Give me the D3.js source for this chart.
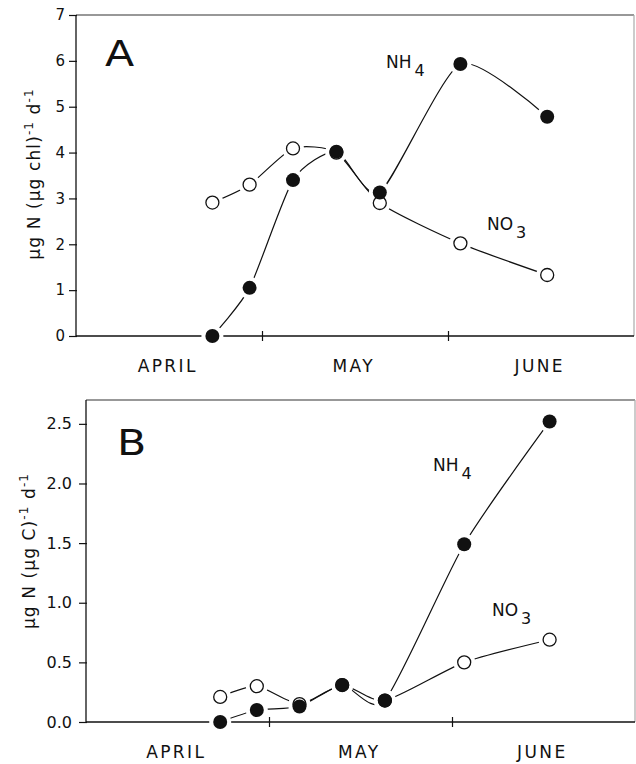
<!DOCTYPE html>
<html>
<head>
<meta charset="utf-8">
<script src="https://cdn.jsdelivr.net/npm/d3@7"></script>
<style>
  html, body { margin: 0; padding: 0; background: #fff; }
  svg { display: block; }
  text { font-family: "DejaVu Sans", sans-serif; fill: #111; }
</style>
</head>
<body>
<svg id="chart" width="636" height="764"></svg>
<script>
// ---- data (days counted from April 1) ----
const sampleDays = [22, 28, 35, 42, 49, 62, 76];
const nh4A = [0.00, 1.05, 3.40, 4.02, 3.13, 5.93, 4.78];
const no3A = [2.91, 3.30, 4.09, 4.00, 2.90, 2.02, 1.33];
const nh4B = [0.00, 0.10, 0.13, 0.31, 0.18, 1.49, 2.52];
const no3B = [0.21, 0.30, 0.15, 0.31, 0.18, 0.50, 0.69];
const monthLabels = ["APRIL", "MAY", "JUNE"];
const monthTickDays = [30, 60];
const yTicksA = [0, 1, 2, 3, 4, 5, 6, 7];
const yTicksB = [0, 0.5, 1.0, 1.5, 2.0, 2.5];

const svg = d3.select("#chart");
svg.append("rect").attr("width", 636).attr("height", 764).attr("fill", "#fff");

function panel(cfg) {
  const g = svg.append("g");
  const x = d3.scaleLinear().domain([0, 90]).range([cfg.left, cfg.right]);
  const y = d3.scaleLinear().domain([0, cfg.ymax]).range([cfg.bottom, cfg.top]);

  // frame: top and (faint) right
  g.append("line").attr("x1", cfg.left).attr("x2", cfg.right)
    .attr("y1", cfg.top).attr("y2", cfg.top)
    .attr("stroke", "#333").attr("stroke-width", 1.2);
  g.append("line").attr("x1", cfg.right).attr("x2", cfg.right)
    .attr("y1", cfg.top).attr("y2", cfg.bottom)
    .attr("stroke", "#aaa").attr("stroke-width", 1.2);

  // y axis
  const ya = g.append("g").attr("transform", `translate(${cfg.left},0)`)
    .call(d3.axisLeft(y).tickValues(cfg.yTicks).tickSize(7).tickPadding(cfg.tickPad)
      .tickFormat(cfg.fmt));
  ya.select(".domain").attr("stroke", "#111").attr("stroke-width", 1.3).attr("d",
    `M0,${cfg.top}V${cfg.bottom}`);
  ya.selectAll(".tick line").attr("stroke", "#111").attr("stroke-width", 1.2).attr("x2", -7).attr("x1", 1);
  ya.selectAll(".tick text").attr("font-size", cfg.tickFont).attr("fill", "#111")
    .style("font-family", '"DejaVu Sans", sans-serif');

  // x axis
  const xa = g.append("g").attr("transform", `translate(0,${cfg.bottom})`)
    .call(d3.axisBottom(x).tickValues(monthTickDays).tickSize(5).tickFormat(""));
  xa.select(".domain").attr("stroke", "#111").attr("stroke-width", 1.3)
    .attr("d", `M${cfg.left},0H${cfg.right}`);
  xa.selectAll(".tick line").attr("stroke", "#111").attr("stroke-width", 1.2).attr("y1", -5).attr("y2", 5);

  // month labels
  g.selectAll(".month").data(monthLabels).enter().append("text")
    .attr("x", (d, i) => x(i * 30 + 14.8))
    .attr("y", cfg.monthY)
    .attr("text-anchor", "middle")
    .attr("font-size", 17)
    .attr("letter-spacing", "2.4px")
    .text(d => d);

  // curves
  const line = d3.line()
    .x(d => x(d[0])).y(d => y(d[1]))
    .curve(d3.curveCardinal.tension(0.35));
  const ptsN = sampleDays.map((d, i) => [d, cfg.nh4[i]]);
  const ptsO = sampleDays.map((d, i) => [d, cfg.no3[i]]);
  [ptsO, ptsN].forEach(p => {
    g.append("path").attr("d", line(p)).attr("fill", "none")
      .attr("stroke", "#111").attr("stroke-width", 1.2);
  });

  const r = 7;
  // white halos leave the small gaps between lines and markers
  g.selectAll(".halo").data(ptsO.concat(ptsN)).enter().append("circle")
    .attr("cx", d => x(d[0])).attr("cy", d => y(d[1])).attr("r", r + 4)
    .attr("fill", "#fff");
  g.selectAll(".openpt").data(ptsO).enter().append("circle")
    .attr("cx", d => x(d[0])).attr("cy", d => y(d[1])).attr("r", r - 0.5)
    .attr("fill", "#fff").attr("stroke", "#111").attr("stroke-width", 1.3);
  g.selectAll(".fillpt").data(ptsN).enter().append("circle")
    .attr("cx", d => x(d[0])).attr("cy", d => y(d[1])).attr("r", r)
    .attr("fill", "#111");

  // panel letter
  g.append("text").attr("transform", `translate(${cfg.letterX},${cfg.letterY}) scale(1.22,1)`)
    .attr("font-size", 35).text(cfg.letter);

  // species labels
  function species(txt, sub, px, py) {
    const t = g.append("text").attr("x", px).attr("y", py).attr("font-size", 17);
    t.append("tspan").text(txt);
    t.append("tspan").attr("dx", 3).attr("dy", 8).attr("font-size", 16).text(sub);
  }
  species("NH", "4", cfg.nhX, cfg.nhY);
  species("NO", "3", cfg.noX, cfg.noY);

  // y title
  const tt = g.append("text")
    .attr("transform", `translate(${cfg.titleX},${cfg.titleY}) rotate(-90)`)
    .attr("text-anchor", "middle").attr("font-size", 17).attr("letter-spacing", "1.1px");
  tt.append("tspan").text(cfg.titleMain);
  tt.append("tspan").attr("dy", -7).attr("font-size", 12).text("-1");
  tt.append("tspan").attr("dy", 7).text(" d");
  tt.append("tspan").attr("dy", -7).attr("font-size", 12).text("-1");
}

panel({
  left: 76, right: 634, top: 15, bottom: 336, ymax: 7,
  yTicks: yTicksA, fmt: d3.format("d"), tickPad: 4, tickFont: 15,
  nh4: nh4A, no3: no3A, monthY: 372,
  letter: "A", letterX: 105, letterY: 66,
  nhX: 386, nhY: 68, noX: 487, noY: 230,
  titleX: 40, titleY: 174, titleMain: "µg N (µg chl)"
});

panel({
  left: 86, right: 635, top: 400, bottom: 722, ymax: 2.7,
  yTicks: yTicksB, fmt: d3.format(".1f"), tickPad: 7, tickFont: 16,
  nh4: nh4B, no3: no3B, monthY: 758,
  letter: "B", letterX: 117, letterY: 455,
  nhX: 433, nhY: 471, noX: 492, noY: 616,
  titleX: 35, titleY: 551, titleMain: "µg N (µg C)"
});
</script>
</body>
</html>
